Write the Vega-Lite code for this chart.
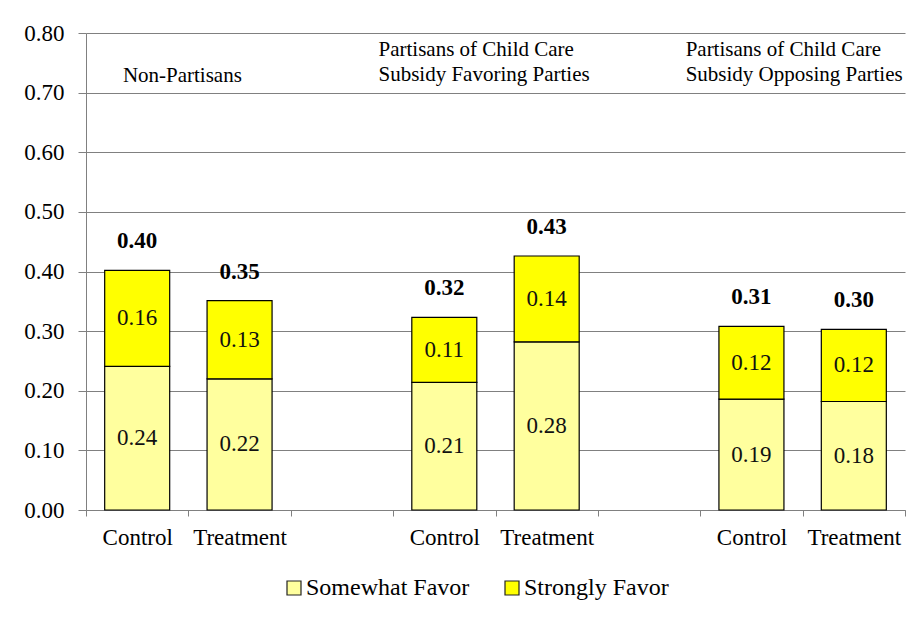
{
  "$schema": "https://vega.github.io/schema/vega-lite/v6.json",
  "width": 819,
  "height": 477,
  "autosize": "none",
  "padding": {"left": 86, "top": 33, "right": 15, "bottom": 108},
  "background": "white",
  "config": {"view": {"stroke": null}, "font": "Liberation Serif"},
  "datasets": {
    "bars": [
      {"cat": "Control 1", "type": "Somewhat Favor", "value": 0.241},
      {"cat": "Control 1", "type": "Strongly Favor", "value": 0.161},
      {"cat": "Treatment 1", "type": "Somewhat Favor", "value": 0.220},
      {"cat": "Treatment 1", "type": "Strongly Favor", "value": 0.131},
      {"cat": "Control 2", "type": "Somewhat Favor", "value": 0.214},
      {"cat": "Control 2", "type": "Strongly Favor", "value": 0.109},
      {"cat": "Treatment 2", "type": "Somewhat Favor", "value": 0.282},
      {"cat": "Treatment 2", "type": "Strongly Favor", "value": 0.144},
      {"cat": "Control 3", "type": "Somewhat Favor", "value": 0.186},
      {"cat": "Control 3", "type": "Strongly Favor", "value": 0.122},
      {"cat": "Treatment 3", "type": "Somewhat Favor", "value": 0.182},
      {"cat": "Treatment 3", "type": "Strongly Favor", "value": 0.121}
    ],
    "titles1": [
      {"cat": "Treatment 1", "title": "Non-Partisans"}
    ],
    "titles2": [
      {"cat": "Treatment 2", "title": "Partisans of Child Care\nSubsidy Favoring Parties"},
      {"cat": "Treatment 3", "title": "Partisans of Child Care\nSubsidy Opposing Parties"}
    ]
  },
  "data": {"name": "bars"},
  "encoding": {
    "x": {
      "field": "cat",
      "type": "nominal",
      "sort": null,
      "scale": {
        "domain": ["Control 1", "Treatment 1", "gap 1", "Control 2", "Treatment 2", "gap 2", "Control 3", "Treatment 3"],
        "paddingInner": 0,
        "paddingOuter": 0
      },
      "axis": {
        "title": null,
        "labelAngle": 0,
        "tickBand": "extent",
        "tickSize": 6,
        "tickColor": "#808080",
        "domainColor": "#808080",
        "labelFont": "Liberation Serif",
        "labelFontSize": 23,
        "labelColor": "black",
        "labelPadding": 10,
        "labelExpr": "(datum.value && indexof(datum.value, 'gap') < 0) ? split(datum.value, ' ')[0] : ''"
      }
    }
  },
  "layer": [
    {
      "mark": {"type": "bar", "stroke": "black", "strokeWidth": 1.2, "width": {"band": 0.635}, "opacity": 1},
      "encoding": {
        "y": {
          "field": "value",
          "type": "quantitative",
          "stack": "zero",
          "scale": {"domain": [0, 0.8], "nice": false},
          "axis": {
            "title": null,
            "values": [0, 0.1, 0.2, 0.3, 0.4, 0.5, 0.6, 0.7, 0.8],
            "format": ".2f",
            "grid": true,
            "gridColor": "#808080",
            "domainColor": "#808080",
            "tickColor": "#808080",
            "tickSize": 8,
            "labelFont": "Liberation Serif",
            "labelFontSize": 23,
            "labelColor": "black",
            "labelPadding": 14
          }
        },
        "order": {"field": "type", "sort": "ascending"},
        "color": {
          "field": "type",
          "type": "nominal",
          "scale": {"domain": ["Somewhat Favor", "Strongly Favor"], "range": ["#FFFF9E", "#FFFF00"]},
          "legend": {
            "orient": "none",
            "legendX": 196,
            "legendY": 543,
            "direction": "horizontal",
            "title": null,
            "symbolType": "square",
            "symbolSize": 196,
            "symbolStrokeColor": "#222222",
            "symbolStrokeWidth": 1.2,
            "symbolOpacity": 1,
            "labelFont": "Liberation Serif",
            "labelFontSize": 24,
            "labelColor": "black",
            "labelLimit": 400,
            "labelOffset": 0,
            "columnPadding": 30,
            "padding": 0
          }
        }
      }
    },
    {
      "mark": {"type": "text", "font": "Liberation Serif", "fontSize": 23, "color": "#111111", "baseline": "middle"},
      "encoding": {
        "y": {"field": "value", "type": "quantitative", "stack": "zero", "bandPosition": 0.5},
        "detail": {"field": "type"},
        "order": {"field": "type", "sort": "ascending"},
        "text": {"field": "value", "type": "quantitative", "format": ".2f"}
      }
    },
    {
      "mark": {"type": "text", "font": "Liberation Serif", "fontSize": 23, "fontWeight": "bold", "color": "black", "baseline": "middle", "dy": -29},
      "encoding": {
        "y": {"aggregate": "sum", "field": "value", "type": "quantitative"},
        "text": {"aggregate": "sum", "field": "value", "type": "quantitative", "format": ".2f"}
      }
    },
    {
      "data": {"name": "titles1"},
      "mark": {"type": "text", "font": "Liberation Serif", "fontSize": 21, "color": "black", "baseline": "middle", "align": "center", "dx": -6},
      "encoding": {
        "x": {"field": "cat", "type": "nominal", "bandPosition": 0},
        "y": {"datum": 0.7285, "type": "quantitative"},
        "text": {"field": "title"}
      }
    },
    {
      "data": {"name": "titles2"},
      "mark": {"type": "text", "font": "Liberation Serif", "fontSize": 21, "color": "black", "baseline": "middle", "align": "left", "lineBreak": "\n", "lineHeight": 25, "dx": -117},
      "encoding": {
        "x": {"field": "cat", "type": "nominal", "bandPosition": 0},
        "y": {"datum": 0.7715, "type": "quantitative"},
        "text": {"field": "title"}
      }
    }
  ]
}
